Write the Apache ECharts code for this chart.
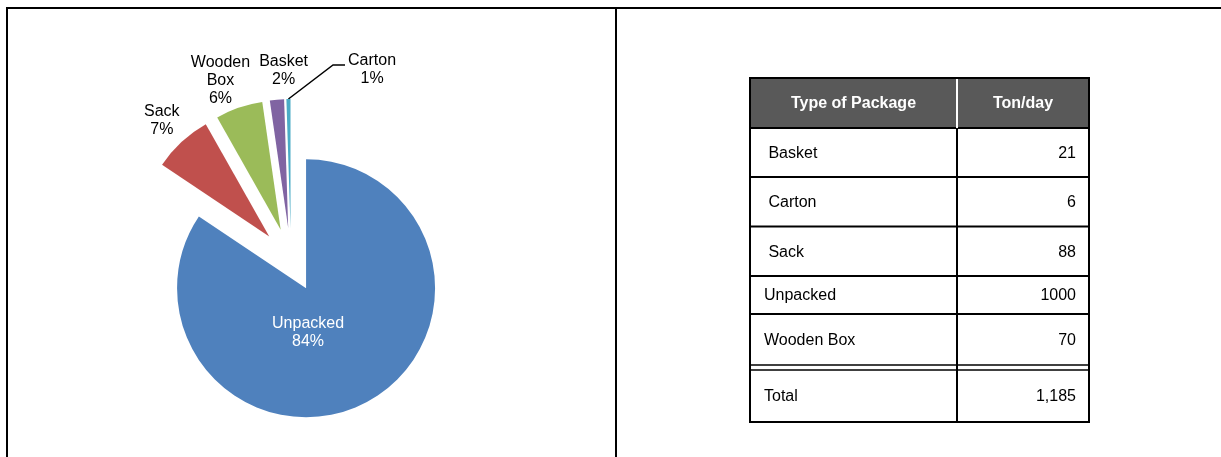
<!DOCTYPE html>
<html>
<head>
<meta charset="utf-8">
<title>Type of Package</title>
<script src="https://cdn.jsdelivr.net/npm/echarts@6/dist/echarts.min.js"></script>
<style>
  html, body { margin: 0; padding: 0; background: #ffffff; }
  #chart { width: 1221px; height: 457px; }
</style>
</head>
<body>
<div id="chart"></div>
<script>
// ---- data -------------------------------------------------------------
// Row labels as written in the table (some cells carry a leading space)
const tableLabels = [' Basket', ' Carton', ' Sack', 'Unpacked', 'Wooden Box'];
// Daily quantity for each package type, same order as tableLabels
const tonsPerDay = [21, 6, 88, 1000, 70];
const tableHeaders = ['Type of Package', 'Ton/day'];
const totalLabel = 'Total';
// Order in which the slices run clockwise from twelve o'clock
const pieOrder = ['Unpacked', 'Sack', 'Wooden Box', 'Basket', 'Carton'];
const pieColors = ['#4F81BD', '#C0504D', '#9BBB59', '#8064A2', '#4BACC6'];

// ---- derived values ---------------------------------------------------
const packageNames = tableLabels.map(s => s.trim());
const total = tonsPerDay.reduce((a, b) => a + b, 0);
const pieValues = pieOrder.map(n => tonsPerDay[packageNames.indexOf(n)]);

// ---- layout -----------------------------------------------------------
const FONT = "'Liberation Sans', Arial, sans-serif";
const LABEL_FONT_SIZE = 16;
const PIE_CX = 291, PIE_CY = 260, PIE_R = 129;
const EXPLODE = 32;        // distance every slice is pulled out
const LABEL_GAP = 29;      // outside labels sit this far beyond the slice rim
const MIN_GAP = 9;         // smallest horizontal space between neighbouring labels
const LEADER_ROOM = 40;    // space left for a leader line when a label is pushed aside

const pct = v => Math.round(v / total * 100) + '%';
const labelText = (name, v) => name.replace(' ', '\n') + '\n' + pct(v);

const measureCtx = document.createElement('canvas').getContext('2d');
measureCtx.font = LABEL_FONT_SIZE + 'px ' + FONT;
const textWidth = s => Math.max.apply(null, s.split('\n').map(l => measureCtx.measureText(l).width));

// mid-angle of each slice, radians clockwise from twelve o'clock
let run = 0;
const midAngles = pieValues.map(v => {
  const a = (run + v / 2) / total * 2 * Math.PI;
  run += v;
  return a;
});

// label placement: outside labels ride along the slice's mid-angle,
// the dominant slice keeps its label inside
const labelBoxes = pieOrder.map((name, i) => {
  const ux = Math.sin(midAngles[i]);
  const uy = -Math.cos(midAngles[i]);
  const w = textWidth(labelText(name, pieValues[i]));
  if (pieValues[i] / total > 0.5) {
    const vx = PIE_CX + EXPLODE * ux;
    const vy = PIE_CY + EXPLODE * uy;
    return { inside: true, x: vx + 2, y: vy + PIE_R * 0.345, w: w };
  }
  const d = PIE_R + EXPLODE + LABEL_GAP;
  return {
    inside: false, x: PIE_CX + d * ux, y: PIE_CY + d * uy, w: w,
    rimX: PIE_CX + (PIE_R + EXPLODE) * ux, rimY: PIE_CY + (PIE_R + EXPLODE) * uy
  };
});
// resolve overlaps from left to right: small overlaps are split between
// both labels, large ones push the label aside with a leader line
for (let i = 1; i < labelBoxes.length; i++) {
  const prev = labelBoxes[i - 1], cur = labelBoxes[i];
  if (prev.inside || cur.inside) continue;
  const overlap = (prev.x + prev.w / 2 + MIN_GAP) - (cur.x - cur.w / 2);
  if (overlap <= 0) continue;
  if (overlap < cur.w / 2) {
    prev.x -= overlap / 2;
    cur.x += overlap / 2;
  } else {
    cur.x = prev.x + prev.w / 2 + LEADER_ROOM + cur.w / 2;
    cur.leader = true;
  }
}

function placeLabel(p) {
  const b = labelBoxes[p.dataIndex];
  const out = { x: b.x, y: b.y, align: 'center', verticalAlign: 'middle' };
  if (b.leader) {
    const lx = b.x - b.w / 2 - 3;
    const ly = b.y - 5;
    out.labelLinePoints = [[b.rimX, b.rimY], [lx - 12, ly], [lx, ly]];
  }
  return out;
}

// ---- table graphics ---------------------------------------------------
const T = {
  left: 750, right: 1089, split: 957, top: 78,
  headerH: 50, rowH: [49, 49.5, 49.5, 38, 51], gap: 5, totalH: 52,
  padL: 14, padR: 13
};
const tableGraphics = [];
const txt = (text, x, y, align, bold, color) => ({
  type: 'text', z: 10,
  style: {
    text: text, x: x, y: y, align: align, verticalAlign: 'middle',
    fill: color || '#000', font: (bold ? 'bold ' : '') + '16px ' + FONT
  }
});
const hline = (y, w) => ({
  type: 'line', z: 5,
  shape: { x1: T.left, y1: y, x2: T.right, y2: y },
  style: { stroke: '#000', lineWidth: w || 2 }
});

tableGraphics.push({
  type: 'rect', z: 1,
  shape: { x: T.left, y: T.top, width: T.right - T.left, height: T.headerH },
  style: { fill: '#595959' }
});
tableGraphics.push({
  type: 'line', z: 6,
  shape: { x1: T.split, y1: T.top, x2: T.split, y2: T.top + T.headerH },
  style: { stroke: '#ffffff', lineWidth: 2 }
});
tableGraphics.push(txt(tableHeaders[0], (T.left + T.split) / 2, T.top + T.headerH / 2 + 1, 'center', true, '#fff'));
tableGraphics.push(txt(tableHeaders[1], (T.split + T.right) / 2, T.top + T.headerH / 2 + 1, 'center', true, '#fff'));

let y = T.top + T.headerH;
tableGraphics.push(hline(y));
tableLabels.forEach((label, i) => {
  const h = T.rowH[i];
  tableGraphics.push(txt(label, T.left + T.padL, y + h / 2 + 1, 'left'));
  tableGraphics.push(txt(String(tonsPerDay[i]), T.right - T.padR, y + h / 2 + 1, 'right'));
  y += h;
  if (i < tableLabels.length - 1) tableGraphics.push(hline(y));
});
// double rule above the total
tableGraphics.push(hline(y, 1.5));
y += T.gap;
tableGraphics.push(hline(y, 1.5));
tableGraphics.push(txt(totalLabel, T.left + T.padL, y + T.totalH / 2 + 1, 'left'));
tableGraphics.push(txt(total.toLocaleString('en-US'), T.right - T.padR, y + T.totalH / 2 + 1, 'right'));
const tableBottom = y + T.totalH;
tableGraphics.push({
  type: 'line', z: 5,
  shape: { x1: T.split, y1: T.top + T.headerH, x2: T.split, y2: tableBottom },
  style: { stroke: '#000', lineWidth: 2 }
});
tableGraphics.push({
  type: 'rect', z: 7,
  shape: { x: T.left, y: T.top, width: T.right - T.left, height: tableBottom - T.top },
  style: { fill: null, stroke: '#000', lineWidth: 2 }
});

// ---- page frame -------------------------------------------------------
const frameGraphics = [
  { type: 'line', shape: { x1: 6, y1: 8, x2: 1221, y2: 8 }, style: { stroke: '#000', lineWidth: 2 } },
  { type: 'line', shape: { x1: 7, y1: 7, x2: 7, y2: 457 }, style: { stroke: '#000', lineWidth: 2 } },
  { type: 'line', shape: { x1: 616, y1: 7, x2: 616, y2: 457 }, style: { stroke: '#000', lineWidth: 2 } }
];

// ---- chart ------------------------------------------------------------
const chart = echarts.init(document.getElementById('chart'), null, { renderer: 'canvas' });

const sliceData = pieOrder.map((name, i) => ({
  name: name, value: pieValues[i], selected: true,
  itemStyle: { color: pieColors[i] }
}));

const labelData = pieOrder.map((name, i) => {
  const b = labelBoxes[i];
  const item = {
    name: name, value: pieValues[i],
    label: b.inside ? { position: 'inside', color: '#ffffff' } : { position: 'outside', color: '#000000' }
  };
  item.labelLine = b.leader
    ? { show: true, lineStyle: { color: '#000', width: 1.5 } }
    : { show: false };
  return item;
});

chart.setOption({
  animation: false,
  backgroundColor: '#ffffff',
  graphic: frameGraphics.concat(tableGraphics),
  series: [
    {
      name: 'slices',
      type: 'pie',
      center: [PIE_CX, PIE_CY],
      radius: PIE_R,
      startAngle: 90,
      clockwise: true,
      selectedMode: 'multiple',
      selectedOffset: EXPLODE,
      silent: true,
      emphasis: { disabled: true },
      label: { show: false },
      labelLine: { show: false },
      itemStyle: { borderWidth: 0 },
      data: sliceData
    },
    {
      name: 'labels',
      type: 'pie',
      center: [PIE_CX, PIE_CY],
      radius: PIE_R,
      startAngle: 90,
      clockwise: true,
      silent: true,
      selectedMode: false,
      avoidLabelOverlap: false,
      emphasis: { disabled: true },
      itemStyle: { color: 'rgba(0,0,0,0)', borderWidth: 0 },
      label: {
        show: true,
        fontFamily: FONT,
        fontSize: LABEL_FONT_SIZE,
        lineHeight: 18,
        formatter: p => labelText(p.name, p.value)
      },
      labelLine: { show: false },
      labelLayout: placeLabel,
      data: labelData
    }
  ]
});
</script>
</body>
</html>
